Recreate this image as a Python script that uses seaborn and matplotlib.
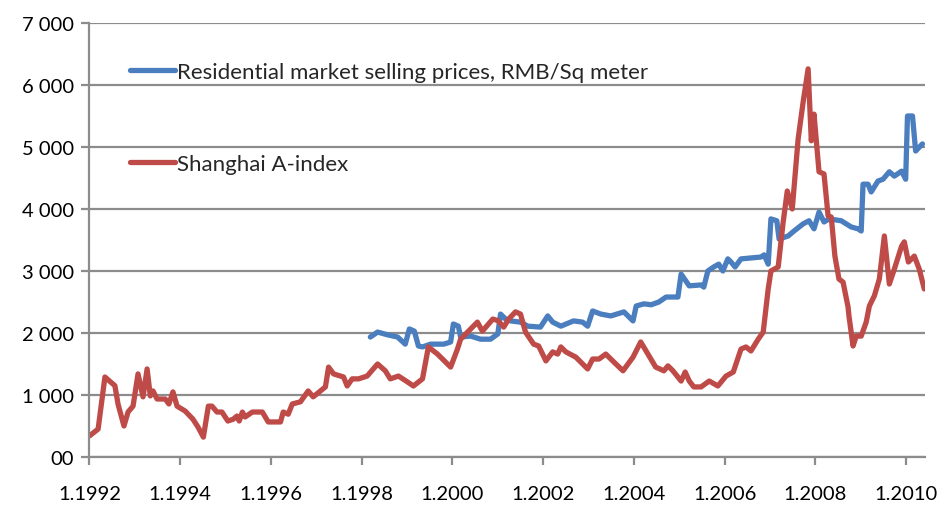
import pandas as pd
import seaborn as sns
from matplotlib import pyplot as plt

# Shanghai A-index (decimal year, value)
index_years = [1992.00, 1992.19, 1992.34, 1992.56, 1992.63, 1992.76, 1992.85, 1992.96, 1993.07, 1993.18,
               1993.27, 1993.34, 1993.40, 1993.49, 1993.67, 1993.75, 1993.84, 1993.93, 1994.11, 1994.28,
               1994.39, 1994.51, 1994.62, 1994.70, 1994.81, 1994.92, 1995.05, 1995.17, 1995.25, 1995.30,
               1995.37, 1995.43, 1995.59, 1995.81, 1995.94, 1996.21, 1996.27, 1996.38, 1996.47, 1996.65,
               1996.82, 1996.93, 1997.20, 1997.27, 1997.38, 1997.60, 1997.68, 1997.79, 1997.93, 1998.12,
               1998.35, 1998.52, 1998.63, 1998.81, 1999.01, 1999.14, 1999.34, 1999.47, 1999.67, 1999.96,
               2000.11, 2000.18, 2000.40, 2000.55, 2000.66, 2000.89, 2001.00, 2001.13, 2001.24, 2001.39,
               2001.50, 2001.61, 2001.79, 2001.90, 2002.06, 2002.21, 2002.32, 2002.39, 2002.50, 2002.72,
               2002.98, 2003.09, 2003.23, 2003.38, 2003.56, 2003.76, 2003.98, 2004.15, 2004.31, 2004.48,
               2004.66, 2004.75, 2004.86, 2005.04, 2005.13, 2005.22, 2005.32, 2005.48, 2005.66, 2005.85,
               2006.03, 2006.19, 2006.36, 2006.47, 2006.58, 2006.74, 2006.85, 2006.96, 2007.02, 2007.18,
               2007.29, 2007.38, 2007.49, 2007.62, 2007.73, 2007.84, 2007.91, 2007.97, 2008.08, 2008.19,
               2008.28, 2008.35, 2008.43, 2008.52, 2008.61, 2008.72, 2008.74, 2008.83, 2008.90, 2009.01,
               2009.12, 2009.19, 2009.30, 2009.41, 2009.52, 2009.63, 2009.74, 2009.90, 2009.96, 2010.05,
               2010.18, 2010.29, 2010.40]
index_values = [340, 450, 1290, 1150, 850, 500, 725, 820, 1340, 970,
                1420, 985, 1065, 935, 935, 855, 1050, 820, 740, 610,
                485, 320, 820, 820, 725, 725, 580, 610, 660, 580,
                725, 645, 725, 725, 565, 565, 725, 690, 855, 890,
                1065, 970, 1130, 1450, 1340, 1290, 1145, 1260, 1260, 1305,
                1500, 1390, 1260, 1305, 1210, 1145, 1260, 1775, 1660, 1450,
                1740, 1900, 2065, 2175, 2030, 2225, 2200, 2095, 2225, 2340,
                2305, 2015, 1820, 1790, 1550, 1695, 1660, 1775, 1695, 1610,
                1420, 1580, 1580, 1660, 1530, 1390, 1610, 1855, 1660, 1450,
                1390, 1470, 1390, 1225, 1370, 1225, 1130, 1130, 1225, 1145,
                1305, 1370, 1740, 1775, 1710, 1900, 2015, 2710, 3000, 3065,
                3790, 4290, 4000, 5130, 5725, 6260, 5100, 5530, 4600, 4565,
                3890, 3870, 3240, 2870, 2820, 2420, 2275, 1790, 1950, 1950,
                2175, 2435, 2600, 2870, 3565, 2790, 3030, 3400, 3470, 3145,
                3240, 3030, 2710]

# Residential market selling prices, RMB/Sq meter
price_years = [1998.19, 1998.35, 1998.57, 1998.79, 1998.96, 1999.05, 1999.16, 1999.25, 1999.34, 1999.52,
               1999.81, 1999.96, 2000.02, 2000.13, 2000.18, 2000.40, 2000.62, 2000.84, 2001.00, 2001.06,
               2001.17, 2001.28, 2001.50, 2001.66, 2001.94, 2002.10, 2002.21, 2002.39, 2002.67, 2002.87,
               2002.98, 2003.09, 2003.27, 2003.49, 2003.78, 2003.98, 2004.05, 2004.22, 2004.38, 2004.55,
               2004.71, 2004.97, 2005.04, 2005.22, 2005.48, 2005.54, 2005.63, 2005.76, 2005.87, 2005.96,
               2006.07, 2006.14, 2006.23, 2006.36, 2006.58, 2006.80, 2006.87, 2006.96, 2007.02, 2007.15,
               2007.20, 2007.40, 2007.53, 2007.73, 2007.86, 2007.97, 2008.08, 2008.19, 2008.30, 2008.57,
               2008.68, 2008.79, 2008.94, 2009.01, 2009.05, 2009.16, 2009.23, 2009.38, 2009.49, 2009.63,
               2009.74, 2009.90, 2009.99, 2010.03, 2010.14, 2010.21, 2010.36]
price_values = [1935, 2015, 1970, 1935, 1820, 2065, 2030, 1790, 1775, 1820,
                1820, 1855, 2145, 2110, 1935, 1950, 1900, 1900, 1985, 2305,
                2225, 2195, 2175, 2110, 2095, 2275, 2175, 2110, 2195, 2175,
                2110, 2355, 2305, 2275, 2340, 2195, 2435, 2470, 2455, 2500,
                2580, 2580, 2950, 2760, 2775, 2740, 3000, 3065, 3110, 3000,
                3195, 3145, 3065, 3195, 3210, 3225, 3260, 3110, 3840, 3810,
                3515, 3565, 3645, 3760, 3810, 3680, 3950, 3790, 3840, 3810,
                3760, 3710, 3680, 3645, 4400, 4400, 4275, 4450, 4480, 4600,
                4530, 4610, 4480, 5500, 5500, 4935, 5050]

x_ticks = [1992, 1994, 1996, 1998, 2000, 2002, 2004, 2006, 2008, 2010]
x_labels = ["1." + str(y) for y in x_ticks]
y_ticks = [0, 1000, 2000, 3000, 4000, 5000, 6000, 7000]
y_labels = ["00", "1 000", "2 000", "3 000", "4 000", "5 000", "6 000", "7 000"]

price_name = "Residential market selling prices, RMB/Sq meter"
index_name = "Shanghai A-index"

prices = pd.DataFrame({"year": price_years, "value": price_values, "series": price_name})
index = pd.DataFrame({"year": index_years, "value": index_values, "series": index_name})
data = pd.concat([prices, index], ignore_index=True)

sns.set_style("white")
plt.rcParams["font.family"] = ["Lato", "DejaVu Sans"]

fig = plt.figure(figsize=(9.43, 5.06), dpi=100)
ax = fig.add_axes([0.0949, 0.0949, 0.8862, 0.8577])

sns.lineplot(data=data, x="year", y="value", hue="series", sort=False,
             palette={price_name: "#4A7EBF", index_name: "#BE4B48"},
             linewidth=3.8, ax=ax)

ax.set_xlim(1992, 2010.42)
ax.set_ylim(0, 7000)
ax.set_xticks(x_ticks)
ax.set_xticklabels(x_labels)
ax.set_yticks(y_ticks)
ax.set_yticklabels(y_labels)
ax.set_xlabel("")
ax.set_ylabel("")

grey = "#8C8C8C"
ax.grid(axis="y", color=grey, linewidth=1.6)
ax.set_axisbelow(True)
for side in ["top", "right"]:
    ax.spines[side].set_visible(False)
for side in ["left", "bottom"]:
    ax.spines[side].set_color(grey)
    ax.spines[side].set_linewidth(1.6)
ax.tick_params(axis="x", length=6, width=1.6, color=grey, direction="out",
               bottom=True, pad=14, labelsize=14.5, labelcolor="black")
ax.tick_params(axis="y", length=6, width=1.6, color=grey, direction="out",
               left=True, pad=5, labelsize=14.5, labelcolor="black")

leg = ax.legend(loc="upper left", bbox_to_anchor=(0.049, 0.91), frameon=False,
                fontsize=16, handlelength=2.0, handletextpad=0.1,
                labelspacing=3.25, borderpad=0, borderaxespad=0)
for line in leg.get_lines():
    line.set_linewidth(3.8)

fig.savefig("out.png", dpi=100)
